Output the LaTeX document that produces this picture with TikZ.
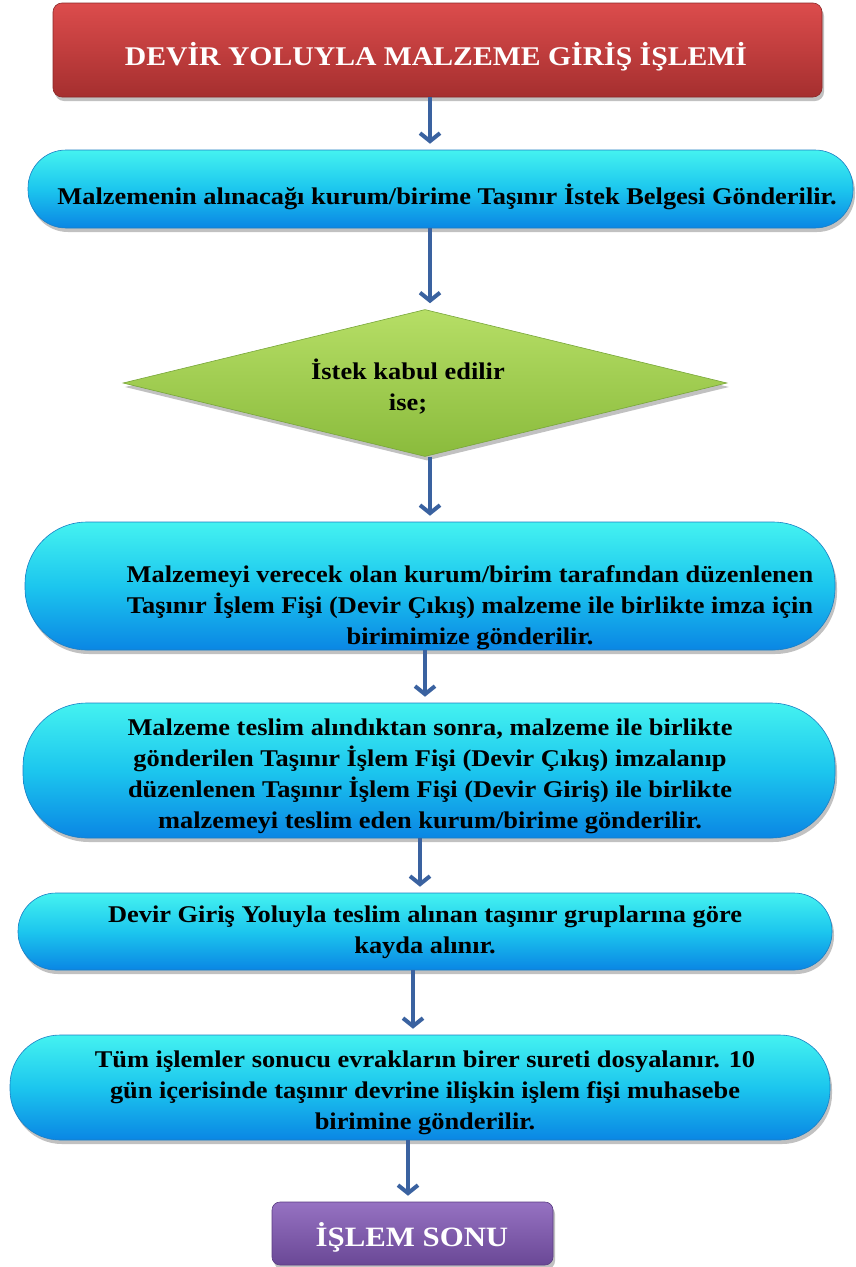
\documentclass[tikz,border=0pt]{standalone}
\usepackage{fontspec}
\setmainfont{Liberation Serif}[FakeStretch=1.1]
\usetikzlibrary{arrows.meta,shapes.geometric,shadows}

\definecolor{cyantop}{HTML}{44F2F0}
\definecolor{cyanmid}{HTML}{1CC6EE}
\definecolor{cyanbot}{HTML}{0A86E4}
\definecolor{cyanedge}{HTML}{1B7FC4}
\definecolor{redtop}{HTML}{DC4C4C}
\definecolor{redbot}{HTML}{A52F2F}
\definecolor{rededge}{HTML}{8A2828}
\definecolor{greentop}{HTML}{B6DE66}
\definecolor{greenbot}{HTML}{8ABB3C}
\definecolor{greenedge}{HTML}{78A63A}
\definecolor{purptop}{HTML}{9672C2}
\definecolor{purpbot}{HTML}{6A4896}
\definecolor{purpedge}{HTML}{5A3C82}
\definecolor{arrowblue}{HTML}{3A62A0}

\tikzset{
  shade/.style={drop shadow={shadow xshift=2pt,shadow yshift=-4pt,opacity=.35,fill=black!70}},
  titlebox/.style={rectangle,rounded corners=9pt,shade,top color=redtop,bottom color=redbot,
    draw=rededge,line width=.6pt,inner sep=0pt},
  pill/.style={rectangle,shade,top color=cyantop,bottom color=cyanbot,middle color=cyanmid,
    draw=cyanedge,line width=.6pt,inner sep=0pt},
  decision/.style={diamond,shade,top color=greentop,bottom color=greenbot,
    draw=greenedge,line width=.6pt,inner sep=0pt},
  endbox/.style={rectangle,rounded corners=8pt,shade,top color=purptop,bottom color=purpbot,
    draw=purpedge,line width=.6pt,inner sep=0pt},
  bodytext/.style={font=\fontsize{24}{31}\selectfont\bfseries,align=center,text=black},
  headtext/.style={font=\fontsize{27}{30}\selectfont\bfseries,text=white},
  flow/.style={draw=arrowblue,line width=4pt,-{Straight Barb[length=8pt,width=20pt]},shorten >=6pt},
}

\begin{document}
\begin{tikzpicture}[x=1pt,y=-1pt]
\useasboundingbox (0,0) rectangle (856,1267);

% boxes
\node[titlebox,minimum width=769pt,minimum height=94pt] (title) at (437.5,50) {};
\node[pill,rounded corners=38pt,minimum width=825pt,minimum height=78pt] (b1) at (440.5,189) {};
\node[decision,minimum width=604pt,minimum height=147pt] (dec) at (425,383) {};
\node[pill,rounded corners=62pt,minimum width=810pt,minimum height=128pt] (b3) at (430,586) {};
\node[pill,rounded corners=64pt,minimum width=812pt,minimum height=135pt] (b4) at (429,770.5) {};
\node[pill,rounded corners=38pt,minimum width=814pt,minimum height=77pt] (b5) at (425,931.5) {};
\node[pill,rounded corners=50pt,minimum width=820pt,minimum height=105pt] (b6) at (420,1087.5) {};
\node[endbox,minimum width=281pt,minimum height=63pt] (fin) at (412.5,1233.5) {};

% texts
\node[headtext] at (436,57) {DEVİR YOLUYLA MALZEME GİRİŞ İŞLEMİ};
\node[bodytext] at (447,197) {Malzemenin alınacağı kurum/birime Taşınır İstek Belgesi Gönderilir.};
\node[bodytext] at (408,387) {İstek kabul edilir\\ise;};
\node[bodytext] at (470,608) {Malzemeyi verecek olan kurum/birim tarafından düzenlenen\\
  Taşınır İşlem Fişi (Devir Çıkış) malzeme ile birlikte imza için\\birimimize gönderilir.};
\node[bodytext] at (430,776) {Malzeme teslim alındıktan sonra, malzeme ile birlikte\\
  gönderilen Taşınır İşlem Fişi (Devir Çıkış) imzalanıp\\
  düzenlenen Taşınır İşlem Fişi (Devir Giriş) ile birlikte\\
  malzemeyi teslim eden kurum/birime gönderilir.};
\node[bodytext] at (425,932) {Devir Giriş Yoluyla teslim alınan taşınır gruplarına göre\\kayda alınır.};
\node[bodytext] at (425,1093) {Tüm işlemler sonucu evrakların birer sureti dosyalanır. 10\\
  gün içerisinde taşınır devrine ilişkin işlem fişi muhasebe\\birimine gönderilir.};
\node[headtext,font=\fontsize{28}{30}\selectfont\bfseries] at (412,1237) {İŞLEM SONU};

% connectors
\draw[flow] (title.south -| 430,0) -- (b1.north -| 430,0);
\draw[flow] (b1.south -| 430,0) -- (dec.north -| 430,0);
\draw[flow] (dec.south -| 430,0) -- (b3.north -| 430,0);
\draw[flow] (b3.south -| 425,0) -- (b4.north -| 425,0);
\draw[flow] (b4.south -| 420,0) -- (b5.north -| 420,0);
\draw[flow] (b5.south -| 413,0) -- (b6.north -| 413,0);
\draw[flow] (b6.south -| 408,0) -- (fin.north -| 408,0);
\end{tikzpicture}
\end{document}
